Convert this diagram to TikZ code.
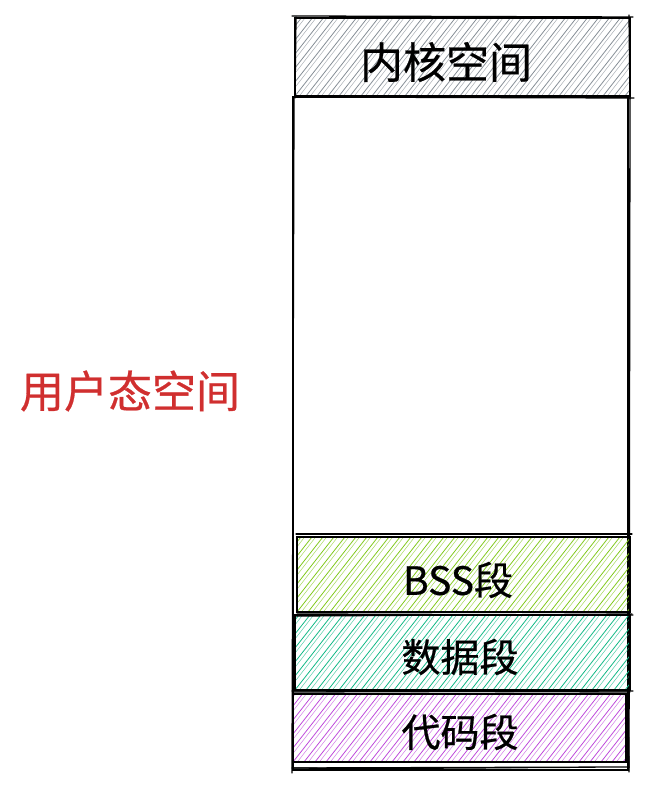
\documentclass[tikz,border=0pt]{standalone}
\usepackage{fontspec}
\newfontfamily\cjk[FakeBold=0.6]{Noto Sans CJK SC}
\usetikzlibrary{calc}
\definecolor{kgray}{HTML}{868E96}
\definecolor{bssgreen}{HTML}{82C91E}
\definecolor{datateal}{HTML}{12B886}
\definecolor{codepurple}{HTML}{BE4BDB}
\definecolor{labelred}{HTML}{D02F2F}
\tikzset{
  hatch/.style={path picture={
    \foreach \k in {0,...,42}{
      \draw[#1, line width=0.8pt]
        ([xshift=\k*11pt-110pt]path picture bounding box.south west) -- ++(110pt,140pt);
      \draw[#1, line width=0.5pt, opacity=0.7]
        ([xshift=\k*11pt-108pt, yshift=-3pt]path picture bounding box.south west) -- ++(112pt,144pt);
    }}},
  seg/.style={rectangle, draw=black, line width=2.5pt, inner sep=0pt, outer sep=0pt},
  segtext/.style={font=\cjk\fontsize{39}{44}\selectfont, text=black},
  rough/.style={draw=black, line width=1.3pt, line cap=round},
}
\begin{document}
\begin{tikzpicture}[x=1pt,y=1pt]
\useasboundingbox (0,0) rectangle (647,790);
% outer user space box
\node[seg, minimum width=335pt, minimum height=673pt] (user) at (460.5,356.5) {};
\draw[rough] ($(user.north west)+(1,-1)$) -- ($(user.south west)+(-1,-3)$);
\draw[rough] ($(user.north east)+(2,1)$) -- ($(user.south east)+(1,-2)$);
\draw[rough] ($(user.south west)+(-1,2)$) -- ($(user.south east)+(1,0)$);
% kernel
\node[seg, hatch=kgray, minimum width=335pt, minimum height=78pt] (kern) at (462.5,733) {};
\node[font=\cjk\fontsize{43}{48}\selectfont] (kerntxt) at (446,728) {内核空间};
\draw[rough] ($(kern.north west)+(-3,2)$) -- ($(kern.north east)+(3,1)$);
\draw[rough] ($(kern.south west)+(-1,-1)$) -- ($(kern.south east)+(4,-2)$);
\draw[rough] ($(kern.north west)+(1,1)$) -- ($(kern.south west)+(0,-2)$);
\draw[rough] ($(kern.north east)+(-1,3)$) -- ($(kern.south east)+(0,-3)$);
% BSS
\node[seg, hatch=bssgreen, minimum width=333pt, minimum height=75pt] (bss) at (463.5,215.5) {};
\node[segtext] (bsstxt) at (458,210) {BSS段};
\draw[rough] ($(bss.north west)+(-1,3)$) -- ($(bss.north east)+(2,3)$);
\draw[rough] ($(bss.south west)+(0,-2)$) -- ($(bss.south east)+(3,-3)$);
% data
\node[seg, hatch=datateal, minimum width=335pt, minimum height=75pt] (data) at (462.5,137.5) {};
\node[segtext] (datatxt) at (460,133) {数据段};
\draw[rough] ($(data.north west)+(0,-1)$) -- ($(data.north east)+(2,1)$);
\draw[rough] ($(data.south west)+(-1,-2)$) -- ($(data.south east)+(3,-1)$);
% code
\node[seg, hatch=codepurple, minimum width=333pt, minimum height=68pt] (code) at (459.5,62) {};
\node[segtext] (codetxt) at (460,58) {代码段};
\draw[rough] ($(code.north west)+(-1,3)$) -- ($(code.north east)+(4,2)$);
\draw[rough] ($(code.south west)+(0,-6)$) -- ($(code.south east)+(3,-5)$);
\draw[rough] ($(code.north east)+(2,2)$) -- ($(code.south east)+(3,-6)$);
% label
\node[font=\cjk\fontsize{44}{48}\selectfont, text=labelred] (ulabel) at (130,399) {用户态空间};
\end{tikzpicture}
\end{document}
